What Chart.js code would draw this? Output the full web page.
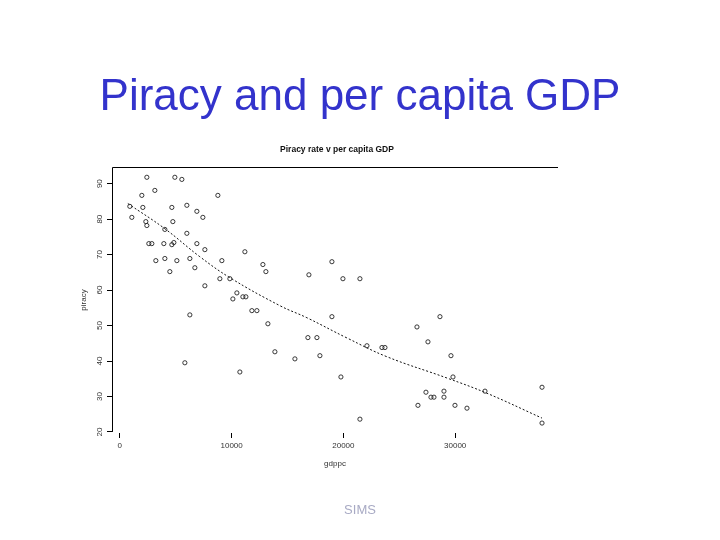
<!DOCTYPE html>
<html>
<head>
<meta charset="utf-8">
<script src="https://cdn.jsdelivr.net/npm/chart.js@4.4.1/dist/chart.umd.min.js"></script>
<style>
  html, body { margin: 0; padding: 0; background: #fff; }
  #wrap { position: relative; width: 720px; height: 540px; overflow: hidden; }
  #chart { position: absolute; left: 0; top: 0; }
  .heading {
    position: absolute; left: 0; width: 720px; top: 70px; text-align: center;
    font-family: "Liberation Sans", Arial, sans-serif; font-size: 44px; color: #3333cc;
  }
  .subtitle {
    position: absolute; left: 237px; width: 200px; top: 144px; text-align: center;
    font-family: "Liberation Sans", Arial, sans-serif; font-size: 8.5px; font-weight: bold; color: #111;
  }
  .footer {
    position: absolute; left: 0; width: 720px; top: 502px; text-align: center;
    font-family: "Liberation Sans", Arial, sans-serif; font-size: 13px; color: #a8aac4;
  }
</style>
</head>
<body>
<div id="wrap">
  <canvas id="chart" width="720" height="540"></canvas>
  <div class="heading">Piracy and per capita GDP</div>
  <div class="subtitle">Piracy rate v per capita GDP</div>
  <div class="footer">SIMS</div>
</div>
<script>
// per capita GDP of each country
const gdppc = [
  2417, 4923, 5549, 3133, 1969, 8771, 895, 2059, 4654, 5997,
  6892, 7429, 1074, 2327, 2417, 4744, 4028, 5997, 2596, 2864,
  3938, 4654, 4833, 6892, 7608, 3222, 4028, 5102, 6265, 9129,
  12799, 13067, 4475, 6713, 8950, 9845, 7608, 10472, 10114, 11009,
  11277, 11814, 12262, 13247, 6265, 13873, 5818, 10740, 11188, 18974,
  16916, 19959, 21480, 18974, 16826, 17632, 15663, 17900, 19780, 22107,
  23450, 23718, 21480, 28640, 26582, 27566, 29625, 29804, 27387, 27834,
  28103, 28998, 28998, 26671, 29983, 31057, 32668, 37770, 37770
];
// piracy rate (%) for the same countries
const piracy = [
  91.8, 91.8, 91.2, 88.1, 86.7, 86.7, 83.6, 83.3, 83.3, 83.9,
  82.2, 80.5, 80.5, 79.3, 78.2, 79.3, 77.1, 76.0, 73.1, 73.1,
  73.1, 72.8, 73.4, 73.1, 71.4, 68.3, 68.9, 68.3, 68.9, 68.3,
  67.2, 65.2, 65.2, 66.3, 63.2, 63.2, 61.2, 59.2, 57.5, 58.1,
  58.1, 54.2, 54.2, 50.5, 53.0, 42.6, 39.5, 36.9, 70.8, 68.0,
  64.3, 63.2, 63.2, 52.5, 46.6, 46.6, 40.6, 41.5, 35.5, 44.3,
  43.8, 43.8, 23.6, 52.5, 49.6, 45.4, 41.5, 35.5, 31.2, 29.8,
  29.8, 31.5, 29.8, 27.5, 27.5, 26.7, 31.5, 32.6, 22.5
];
// smoothed (lowess) fit
const fitX = [716, 4028, 7160, 9845, 14320, 16737, 20317, 23897, 29267, 32847, 37770];
const fitY = [84.4, 77.3, 69.4, 63.5, 55.6, 52.2, 46.5, 41.2, 35.2, 30.9, 23.9];

const xTicks = [0, 10000, 20000, 30000];
const yTicks = [20, 30, 40, 50, 60, 70, 80, 90];

const tickFont = { family: "'Liberation Sans', Arial, sans-serif", size: 8 };

// R style frame: left side and top side of the plot box
const framePlugin = {
  id: 'frame',
  afterDraw(chart) {
    const { ctx, chartArea } = chart;
    const yBottom = chart.scales.y.getPixelForValue(yTicks[0]);
    ctx.save();
    ctx.strokeStyle = '#000';
    ctx.lineWidth = 1;
    ctx.beginPath();
    ctx.moveTo(chartArea.left + 0.5, yBottom);
    ctx.lineTo(chartArea.left + 0.5, chartArea.top + 0.5);
    ctx.lineTo(chartArea.right, chartArea.top + 0.5);
    ctx.stroke();
    ctx.restore();
  }
};

new Chart(document.getElementById('chart'), {
  type: 'scatter',
  data: {
    datasets: [
      {
        data: gdppc.map((g, i) => ({ x: g, y: piracy[i] })),
        pointStyle: 'circle',
        pointRadius: 2.1,
        pointBorderWidth: 0.9,
        pointBorderColor: '#222',
        pointBackgroundColor: 'rgba(0,0,0,0)',
        showLine: false,
      },
      {
        data: fitX.map((g, i) => ({ x: g, y: fitY[i] })),
        showLine: true,
        borderColor: '#111',
        borderWidth: 1,
        borderDash: [2, 2],
        pointRadius: 0,
        tension: 0.4,
        fill: false,
      },
    ],
  },
  options: {
    responsive: false,
    animation: false,
    layout: { padding: { left: 72, right: 162, top: 167, bottom: 67 } },
    plugins: {
      legend: { display: false },
      tooltip: { enabled: false },
      title: { display: false },
    },
    scales: {
      x: {
        type: 'linear',
        min: -700,
        max: 39200,
        afterBuildTicks(scale) { scale.ticks = xTicks.map(v => ({ value: v })); },
        afterFit(scale) { scale.height = 40; },
        border: { display: false },
        grid: { drawOnChartArea: false, drawTicks: true, tickLength: 5, color: '#000' },
        ticks: { font: tickFont, color: '#333', padding: 3, maxRotation: 0, callback: v => String(v) },
        title: { display: true, text: 'gdppc', font: tickFont, color: '#333', padding: { top: 4, bottom: 4 } },
      },
      y: {
        type: 'linear',
        min: 19.7,
        max: 94.7,
        afterBuildTicks(scale) { scale.ticks = yTicks.map(v => ({ value: v })); },
        afterFit(scale) { scale.width = 40; },
        border: { display: false },
        grid: { drawOnChartArea: false, drawTicks: true, tickLength: 5, color: '#000' },
        ticks: { font: tickFont, color: '#333', padding: 3, minRotation: 90, maxRotation: 90, crossAlign: 'center' },
        title: { display: true, text: 'piracy', font: tickFont, color: '#333', padding: { top: 7, bottom: 4 } },
      },
    },
  },
  plugins: [framePlugin],
});
</script>
</body>
</html>
